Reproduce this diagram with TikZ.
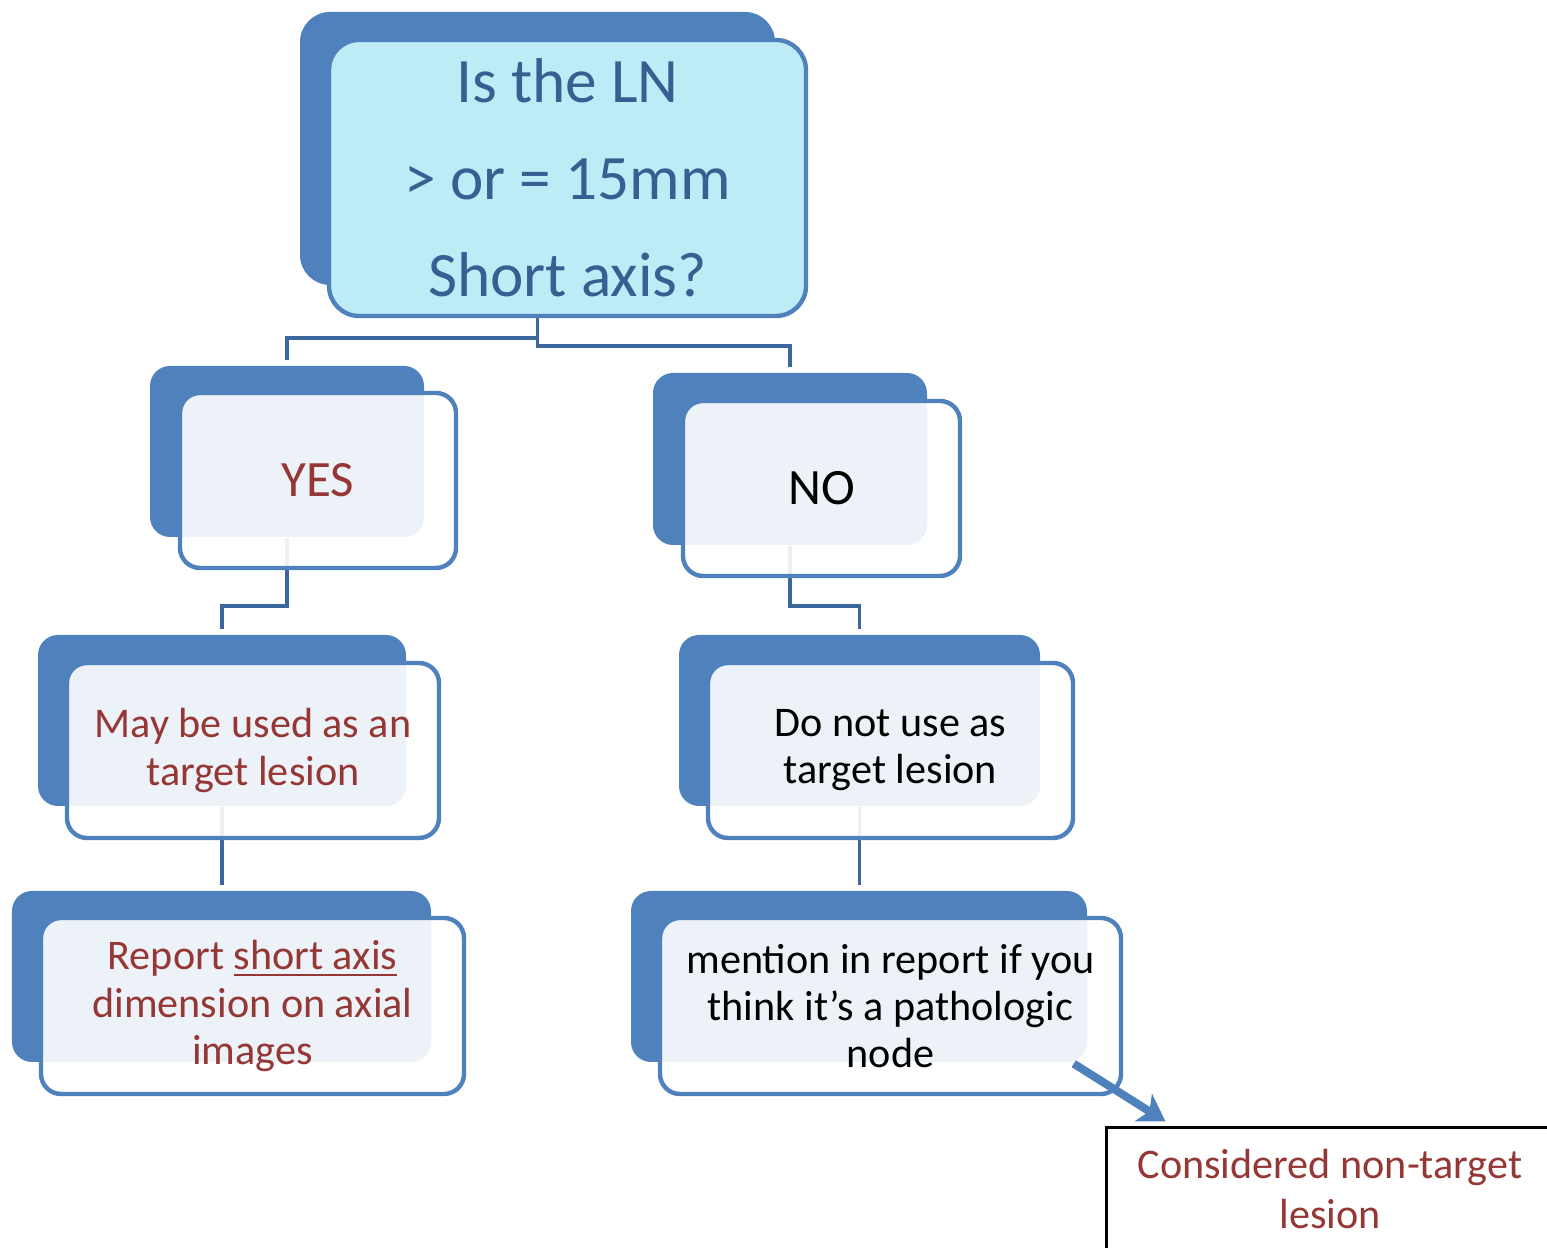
\documentclass[tikz,border=0pt]{standalone}
\usepackage{fontspec}
\setmainfont{Carlito}
\usetikzlibrary{arrows.meta, positioning, calc}
\definecolor{boxblue}{HTML}{4F81BD}
\definecolor{linkblue}{HTML}{3C679C}
\definecolor{askcyan}{HTML}{BDEBF6}
\definecolor{asktext}{HTML}{376092}
\definecolor{darkred}{HTML}{953735}
\tikzset{
	backbox/.style={rectangle, rounded corners=0.2cm, fill=boxblue, inner sep=0pt},
	frontbox/.style={rectangle, rounded corners=0.2cm, draw=boxblue, line width=1.25pt, fill=white, fill opacity=0.9, text opacity=1, inner sep=0pt, align=center},
	askbox/.style={frontbox, rounded corners=0.3cm, fill=askcyan, fill opacity=1, text=asktext, font=\fontsize{18}{27.6}\selectfont},
	answer/.style={font=\fontsize{14.5}{17}\selectfont},
	action/.style={font=\fontsize{12}{13.4}\selectfont},
	link/.style={draw=linkblue, line width=1.1pt, shorten >=0.05cm},
	arrow/.style={draw=boxblue, line width=2.3pt, -{Stealth[length=2.6mm, width=3.2mm, inset=0.7mm]}}
}
\begin{document}
\begin{tikzpicture}
		\useasboundingbox (0,0) rectangle (15.47,12.48);
		\clip (0,0) rectangle (15.47,12.48);
		% Cajas traseras
		\node (askb) [backbox, rounded corners=0.3cm, minimum width=4.75cm, minimum height=2.73cm] at (5.375,10.995) {};
		\node (yesb) [backbox, minimum width=2.74cm, minimum height=1.71cm] at (2.87,7.965) {};
		\node (nob) [backbox, minimum width=2.74cm, minimum height=1.72cm] at (7.90,7.89) {};
		\node (mayb) [backbox, minimum width=3.68cm, minimum height=1.71cm] at (2.22,5.275) {};
		\node (dob) [backbox, minimum width=3.61cm, minimum height=1.71cm] at (8.595,5.275) {};
		\node (repb) [backbox, minimum width=4.19cm, minimum height=1.71cm] at (2.215,2.715) {};
		\node (menb) [backbox, minimum width=4.56cm, minimum height=1.71cm] at (8.59,2.715) {};
		
		% Conexiones
		\draw [link] (askb.south) -- ++(0,-0.52) -| (yesb.north);
		\draw [link] (askb.south) -- ++(0,-0.60) -| (nob.north);
		\draw [link] (yesb.south) -- ++(0,-0.68) -| (mayb.north);
		\draw [link] (nob.south) -- ++(0,-0.60) -| (dob.north);
		\draw [link] (mayb.south) -- (mayb.south |- repb.north);
		\draw [link] (dob.south) -- (dob.south |- menb.north);
		
		% Cajas delanteras
		\node (ask) [askbox, minimum width=4.77cm, minimum height=2.76cm] at (5.675,10.70) {Is the LN\\> or = 15mm\\Short axis?};
		\node (yes) [frontbox, answer, text=darkred, minimum width=2.76cm, minimum height=1.75cm] at (3.18,7.675) {YES};
		\node (no) [frontbox, answer, minimum width=2.77cm, minimum height=1.75cm] at (8.215,7.595) {NO};
		\node (may) [frontbox, action, text=darkred, minimum width=3.72cm, minimum height=1.75cm] at (2.53,4.975) {May be used as an\\target lesion};
		\node (donot) [frontbox, action, minimum width=3.65cm, minimum height=1.75cm] at (8.905,4.975) {Do not use as\\target lesion};
		\node (report) [frontbox, action, text=darkred, minimum width=4.23cm, minimum height=1.76cm] at (2.525,2.42) {Report \underline{short axis}\\dimension on axial\\images};
		\node (mention) [frontbox, action, minimum width=4.61cm, minimum height=1.76cm] at (8.905,2.42) {mention in report if you\\think it’s a pathologic\\node};
		
		% Salida
		\node (nontarget) [draw=black, line width=0.85pt, minimum width=4.48cm, minimum height=1.22cm, align=center, text=darkred, font=\fontsize{12}{14.2}\selectfont] at (13.30,0.59) {Considered non-target\\lesion};
		\draw [arrow] ($(menb.south east)+(-0.14,-0.01)$) -- ($(nontarget.north west)+(0.61,0.05)$);
	\end{tikzpicture}
\end{document}
